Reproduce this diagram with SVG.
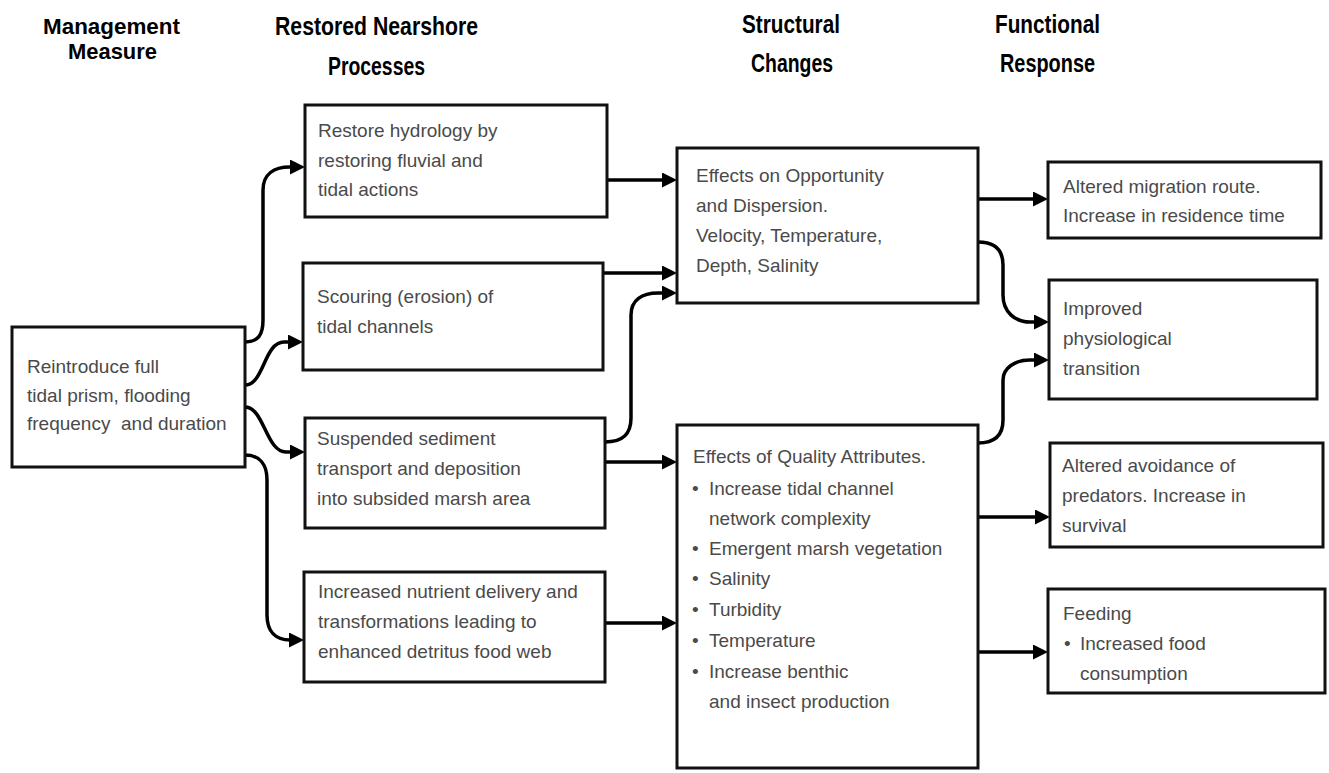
<svg xmlns="http://www.w3.org/2000/svg" width="1329" height="773" viewBox="0 0 1329 773">
<style>
.hd{font-family:"Liberation Sans",Arial,sans-serif;font-weight:bold;font-size:26px;fill:#000}
.hs{font-size:22px}
.bx{fill:#fff;stroke:#111;stroke-width:3}
.tx{font-family:"Liberation Sans",Arial,sans-serif;font-size:19px;fill:#4a4a4a}
.cn{fill:none;stroke:#000;stroke-width:3.5}
</style>
<defs>
<marker id="ah" markerUnits="userSpaceOnUse" markerWidth="16" markerHeight="16" refX="6" refY="7.5" orient="auto">
<path d="M0,0 L15,7.5 L0,15 z" fill="#000"/>
</marker>
</defs>
<rect width="1329" height="773" fill="#fff"/>
<g id="headers">
<text class="hd hs" x="43" y="34" textLength="137" lengthAdjust="spacingAndGlyphs">Management</text>
<text class="hd hs" x="68" y="59" textLength="89" lengthAdjust="spacingAndGlyphs">Measure</text>
<text class="hd" x="275" y="35" textLength="203" lengthAdjust="spacingAndGlyphs">Restored Nearshore</text>
<text class="hd" x="328" y="75" textLength="97" lengthAdjust="spacingAndGlyphs">Processes</text>
<text class="hd" x="742" y="33" textLength="98" lengthAdjust="spacingAndGlyphs">Structural</text>
<text class="hd" x="751" y="72" textLength="82" lengthAdjust="spacingAndGlyphs">Changes</text>
<text class="hd" x="995" y="33" textLength="105" lengthAdjust="spacingAndGlyphs">Functional</text>
<text class="hd" x="1000" y="72" textLength="95" lengthAdjust="spacingAndGlyphs">Response</text>
</g>
<g id="connectors">
<path class="cn" marker-end="url(#ah)" d="M245,342 C258,342 263,335 263,320 L263,190 C263,174 274,167 290,167 L296,167"/>
<path class="cn" marker-end="url(#ah)" d="M245,385 C264,385 264,342 284,342 L294,342"/>
<path class="cn" marker-end="url(#ah)" d="M245,407 C264,407 266,452 286,452 L296,452"/>
<path class="cn" marker-end="url(#ah)" d="M245,455 C260,455 267,465 267,480 L267,615 C267,632 276,640 290,640 L295,640"/>
<path class="cn" marker-end="url(#ah)" d="M607,180 L668,180"/>
<path class="cn" marker-end="url(#ah)" d="M603,273 L668,273"/>
<path class="cn" marker-end="url(#ah)" d="M605,442 C622,442 631,435 631,418 L631,315 C631,300 642,293 658,293 L668,293"/>
<path class="cn" marker-end="url(#ah)" d="M605,462 L668,462"/>
<path class="cn" marker-end="url(#ah)" d="M605,623 L668,623"/>
<path class="cn" marker-end="url(#ah)" d="M978,199 L1039,199"/>
<path class="cn" marker-end="url(#ah)" d="M978,242 C995,242 1003,250 1003,265 L1003,295 C1003,312 1015,322 1030,322 L1040,322"/>
<path class="cn" marker-end="url(#ah)" d="M978,443 C995,443 1003,435 1003,420 L1003,380 C1003,368 1015,360 1030,360 L1040,360"/>
<path class="cn" marker-end="url(#ah)" d="M978,517 L1041,517"/>
<path class="cn" marker-end="url(#ah)" d="M978,652 L1039,652"/>
</g>
<g id="mgmt">
<rect class="bx" x="12" y="327" width="233" height="140"/>
<text class="tx" x="27" y="373">Reintroduce full</text>
<text class="tx" x="27" y="402">tidal prism, flooding</text>
<text class="tx" x="27" y="430" xml:space="preserve">frequency  and duration</text>
</g>
<g id="restore">
<rect class="bx" x="305" y="105" width="302" height="112"/>
<text class="tx" x="318" y="137">Restore hydrology by</text>
<text class="tx" x="318" y="167">restoring fluvial and</text>
<text class="tx" x="318" y="196">tidal actions</text>
</g>
<g id="scouring">
<rect class="bx" x="303" y="263" width="300" height="107"/>
<text class="tx" x="317" y="303">Scouring (erosion) of</text>
<text class="tx" x="317" y="333">tidal channels</text>
</g>
<g id="suspended">
<rect class="bx" x="305" y="418" width="300" height="110"/>
<text class="tx" x="317" y="445">Suspended sediment</text>
<text class="tx" x="317" y="475">transport and deposition</text>
<text class="tx" x="317" y="505">into subsided marsh area</text>
</g>
<g id="nutrient">
<rect class="bx" x="304" y="572" width="301" height="110"/>
<text class="tx" x="318" y="598">Increased nutrient delivery and</text>
<text class="tx" x="318" y="628">transformations leading to</text>
<text class="tx" x="318" y="658">enhanced detritus food web</text>
</g>
<g id="effOpp">
<rect class="bx" x="677" y="148" width="301" height="155"/>
<text class="tx" x="696" y="182">Effects on Opportunity</text>
<text class="tx" x="696" y="212">and Dispersion.</text>
<text class="tx" x="696" y="242">Velocity, Temperature,</text>
<text class="tx" x="696" y="272">Depth, Salinity</text>
</g>
<g id="effQual">
<rect class="bx" x="677" y="425" width="301" height="343"/>
<text class="tx" x="693" y="463">Effects of Quality Attributes.</text>
<text class="tx" x="692" y="495">•</text><text class="tx" x="709" y="495">Increase tidal channel</text>
<text class="tx" x="709" y="525">network complexity</text>
<text class="tx" x="692" y="555">•</text><text class="tx" x="709" y="555">Emergent marsh vegetation</text>
<text class="tx" x="692" y="585">•</text><text class="tx" x="709" y="585">Salinity</text>
<text class="tx" x="692" y="616">•</text><text class="tx" x="709" y="616">Turbidity</text>
<text class="tx" x="692" y="647">•</text><text class="tx" x="709" y="647">Temperature</text>
<text class="tx" x="692" y="678">•</text><text class="tx" x="709" y="678">Increase benthic</text>
<text class="tx" x="709" y="708">and insect production</text>
</g>
<g id="migration">
<rect class="bx" x="1048" y="162" width="273" height="76"/>
<text class="tx" x="1063" y="193">Altered migration route.</text>
<text class="tx" x="1063" y="222">Increase in residence time</text>
</g>
<g id="improved">
<rect class="bx" x="1049" y="280" width="268" height="119"/>
<text class="tx" x="1063" y="315">Improved</text>
<text class="tx" x="1063" y="345">physiological</text>
<text class="tx" x="1063" y="375">transition</text>
</g>
<g id="avoidance">
<rect class="bx" x="1050" y="443" width="273" height="104"/>
<text class="tx" x="1062" y="472">Altered avoidance of</text>
<text class="tx" x="1062" y="502">predators. Increase in</text>
<text class="tx" x="1062" y="532">survival</text>
</g>
<g id="feeding">
<rect class="bx" x="1048" y="589" width="277" height="104"/>
<text class="tx" x="1063" y="620">Feeding</text>
<text class="tx" x="1064" y="650">•</text><text class="tx" x="1080" y="650">Increased food</text>
<text class="tx" x="1080" y="680">consumption</text>
</g>
</svg>
